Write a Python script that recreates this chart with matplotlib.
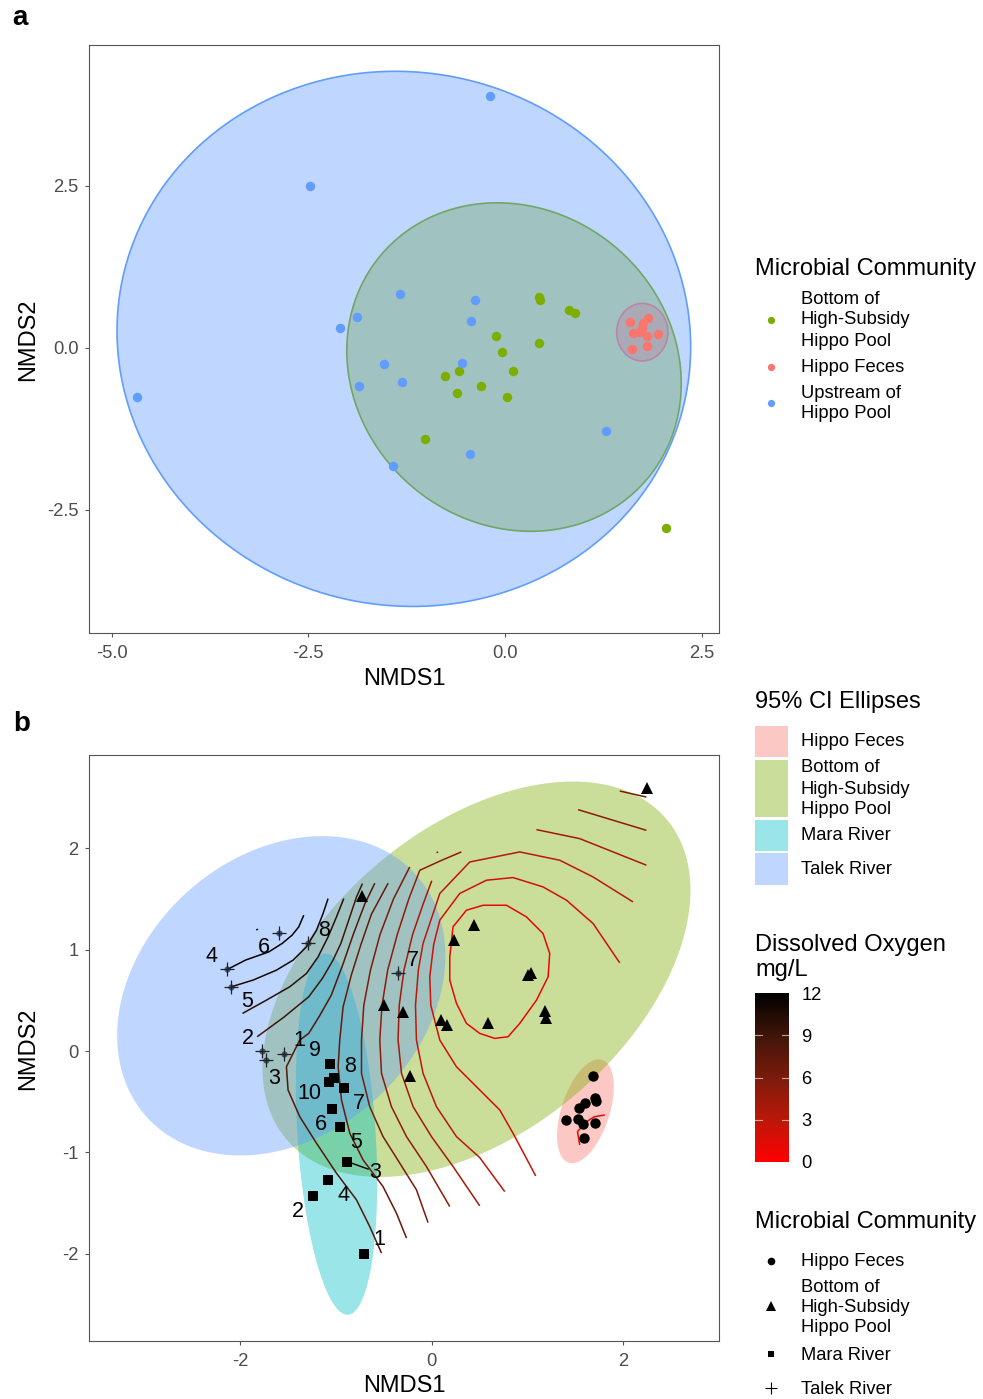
import numpy as np
import matplotlib
matplotlib.use('Agg')
import matplotlib.pyplot as plt
from matplotlib.colors import LinearSegmentedColormap, Normalize
from matplotlib.patches import Polygon, Rectangle
from matplotlib.cm import ScalarMappable

plt.rcParams['font.family'] = ['Liberation Sans', 'DejaVu Sans']
plt.rcParams['axes.unicode_minus'] = False

# ---------------- Panel a data ----------------
a_bottom_x = [0.43, 0.45, 0.82, 0.89, -0.12, -0.04, 0.43, 0.10, -0.76, -0.58, -0.61, -0.30, 0.02, -1.01, 2.05]
a_bottom_y = [0.79, 0.74, 0.58, 0.54, 0.18, -0.07, 0.08, -0.36, -0.43, -0.35, -0.69, -0.58, -0.76, -1.40, -2.78]
a_feces_x = [1.59, 1.82, 1.76, 1.70, 1.63, 1.80, 1.95, 1.81, 1.62, 1.74]
a_feces_y = [0.40, 0.46, 0.38, 0.25, 0.23, 0.18, 0.22, 0.03, -0.02, 0.31]
a_up_x = [-0.19, -2.48, -1.34, -0.38, -1.88, -2.09, -0.43, -1.54, -0.54, -1.86, -1.31, -4.67, 1.28, -0.45, -1.42]
a_up_y = [3.89, 2.50, 0.84, 0.74, 0.48, 0.31, 0.41, -0.25, -0.24, -0.59, -0.53, -0.76, -1.28, -1.64, -1.83]
# ellipses: centre x, centre y, sd-x, sd-y, correlation
a_ell_bottom = (0.115, -0.295, 2.125, 2.535, -0.10)
a_ell_feces = (1.745, 0.243, 0.325, 0.444, 0.0)
a_ell_up = (-1.285, 0.14, 3.645, 4.13, -0.03)
a_xticks = [-5.0, -2.5, 0.0, 2.5]
a_yticks = [-2.5, 0.0, 2.5]

# ---------------- Panel b data ----------------
b_feces_x = [1.688, 1.702, 1.720, 1.601, 1.539, 1.399, 1.525, 1.584, 1.709, 1.587]
b_feces_y = [-0.243, -0.466, -0.490, -0.509, -0.562, -0.683, -0.670, -0.719, -0.709, -0.860]
b_bottom_x = [2.245, -0.727, 0.444, 0.234, 1.010, 1.035, -0.504, -0.299, 0.095, 0.154, 0.583, 1.178, 1.190, -0.228]
b_bottom_y = [2.59, 1.526, 1.248, 1.100, 0.748, 0.766, 0.451, 0.388, 0.310, 0.255, 0.272, 0.396, 0.321, -0.245]
b_mara_x = [-0.710, -1.240, -0.884, -1.083, -0.954, -1.041, -0.912, -1.020, -1.058, -1.076]
b_mara_y = [-1.997, -1.432, -1.090, -1.274, -0.752, -0.575, -0.368, -0.269, -0.128, -0.302]
b_mara_lab = ['1', '2', '3', '4', '5', '6', '7', '8', '9', '10']
b_mara_lab_x = [-0.543, -1.403, -0.595, -0.919, -0.794, -1.163, -0.762, -0.849, -1.222, -1.281]
b_mara_lab_y = [-1.862, -1.583, -1.199, -1.429, -0.903, -0.729, -0.522, -0.154, 0.010, -0.417]
b_talek_x = [-1.542, -1.772, -1.727, -2.134, -2.092, -1.591, -0.355, -1.292]
b_talek_y = [-0.033, 0.003, -0.089, 0.805, 0.634, 1.169, 0.768, 1.067]
b_talek_lab = ['1', '2', '3', '4', '5', '6', '7', '8']
b_talek_lab_x = [-1.382, -1.922, -1.650, -2.301, -1.929, -1.755, -0.195, -1.128]
b_talek_lab_y = [0.108, 0.125, -0.269, 0.929, 0.486, 1.018, 0.897, 1.185]
b_ell_feces = (1.605, -0.594, 0.296, 0.5125, 0.47)
b_ell_bottom = (0.467, 0.708, 2.235, 1.95, 0.45)
b_ell_mara = (-0.995, -0.819, 0.425, 1.782, -0.27)
b_ell_talek = (-1.572, 0.545, 1.714, 1.575, 0.25)
b_xticks = [-2, 0, 2]
b_yticks = [-2, -1, 0, 1, 2]

# Dissolved-oxygen contour paths: (level, [(x, y), ...])
do_contours = [
    (12, [(-2.134, 0.805), (-1.946, 0.897), (-1.702, 0.978), (-1.563, 1.061), (-1.459, 1.143), (-1.389, 1.225), (-1.337, 1.340)]),
    (12, [(-1.832, 1.193), (-1.816, 1.203)]),
    (11, [(-2.092, 0.634), (-1.866, 0.700), (-1.622, 0.798), (-1.448, 0.897), (-1.309, 1.028), (-1.204, 1.192), (-1.135, 1.357), (-1.083, 1.504)]),
    (10, [(-1.977, 0.371), (-1.727, 0.502), (-1.483, 0.634), (-1.309, 0.765), (-1.187, 0.929), (-1.083, 1.126), (-0.995, 1.323), (-0.919, 1.504)]),
    (9, [(-1.824, 0.141), (-1.550, 0.330), (-1.285, 0.535), (-1.140, 0.720), (-1.031, 0.897), (-0.950, 1.060), (-0.891, 1.225), (-0.786, 1.520), (-0.724, 1.652)]),
    (8, [(-0.525, -1.993), (-0.648, -1.731), (-0.786, -1.468), (-0.995, -1.205), (-1.204, -0.909), (-1.379, -0.647), (-1.501, -0.384), (-1.518, -0.155), (-1.379, 0.108), (-1.285, 0.174), (-1.17, 0.35), (-1.05, 0.55), (-0.93, 0.85), (-0.82, 1.15), (-0.70, 1.45), (-0.595, 1.655)]),
    (7, [(-0.264, -1.845), (-0.369, -1.599), (-0.509, -1.337), (-0.717, -1.074), (-0.856, -0.811), (-0.943, -0.483), (-0.978, -0.155), (-0.961, 0.108), (-0.926, 0.436), (-0.84, 0.75), (-0.74, 1.05), (-0.63, 1.35), (-0.456, 1.655)]),
    (6, [(-0.039, -1.692), (-0.160, -1.369), (-0.334, -1.106), (-0.509, -0.844), (-0.648, -0.549), (-0.734, -0.220), (-0.734, 0.108), (-0.71, 0.45), (-0.64, 0.80), (-0.54, 1.15), (-0.40, 1.50), (-0.230, 1.816)]),
    (5, [(0.188, -1.534), (-0.055, -1.140), (-0.264, -0.844), (-0.421, -0.549), (-0.525, -0.220), (-0.543, 0.108), (-0.52, 0.45), (-0.46, 0.80), (-0.36, 1.15), (-0.24, 1.50), (-0.125, 1.783), (0.10, 1.88), (0.309, 1.964)]),
    (4, [(0.501, -1.527), (0.223, -1.140), (-0.003, -0.844), (-0.195, -0.549), (-0.316, -0.220), (-0.352, 0.108), (-0.34, 0.45), (-0.29, 0.80), (-0.20, 1.15), (-0.09, 1.45), (0.0, 1.68)]),
    (4, [(0.050, 1.955), (0.066, 1.965)]),
    (3, [(0.762, -1.386), (0.50, -1.05), (0.258, -0.844), (0.049, -0.549), (-0.091, -0.220), (-0.160, 0.108), (-0.17, 0.45), (-0.14, 0.80), (-0.091, 1.061), (0.084, 1.554), (0.397, 1.865), (0.919, 1.964), (1.337, 1.882), (1.685, 1.717), (2.102, 1.471)]),
    (2, [(1.086, -1.232), (0.849, -0.811), (0.710, -0.581), (0.501, -0.384), (0.258, -0.155), (0.084, 0.108), (-0.01, 0.45), (-0.021, 0.732), (0.02, 1.05), (0.084, 1.291), (0.292, 1.554), (0.571, 1.685), (0.849, 1.711), (1.162, 1.619), (1.407, 1.488), (1.685, 1.258), (1.963, 0.870)]),
    (1, [(0.188, 0.929), (0.222, 1.225), (0.362, 1.389), (0.536, 1.438), (0.780, 1.438), (0.989, 1.323), (1.162, 1.159), (1.232, 0.962), (1.215, 0.732), (1.094, 0.502), (0.919, 0.273), (0.797, 0.141), (0.658, 0.125), (0.501, 0.174), (0.362, 0.273), (0.258, 0.470), (0.188, 0.700), (0.188, 0.929)]),
    (4, [(1.093, 2.184), (1.546, 2.095), (2.242, 1.833)]),
    (5, [(1.528, 2.381), (2.242, 2.177)]),
    (6, [(1.963, 2.565), (2.242, 2.505)]),
    (1, [(1.546, -0.926), (1.522, -0.795), (1.616, -0.697), (1.702, -0.647), (1.807, -0.631)]),
]
do_ticks = [0, 3, 6, 9, 12]

# ---------------- styling ----------------
C_RED, C_GREEN, C_BLUE, C_CYAN = '#F8766D', '#7CAE00', '#619CFF', '#00BFC4'
TICK_C = '#4D4D4D'
TITLE_SIZE = 17
do_cmap = LinearSegmentedColormap.from_list(
    'do', [(0.0, '#FF0000'), (0.25, '#BA1809'), (0.5, '#7A1B0C'), (0.75, '#3F1509'), (1.0, '#000000')])
do_norm = Normalize(0, 12)

W, H = 983, 1399
fig = plt.figure(figsize=(W / 100, H / 100), dpi=100)


def fig_rect(x0, y0, x1, y1):
    return [x0 / W, 1 - y1 / H, (x1 - x0) / W, (y1 - y0) / H]


def ellipse_pts(p, n=240):
    cx, cy, sx, sy, rho = p
    t = np.linspace(0, 2 * np.pi, n)
    S = np.array([[sx ** 2, rho * sx * sy], [rho * sx * sy, sy ** 2]])
    L = np.linalg.cholesky(S)
    xy = L @ np.vstack([np.cos(t), np.sin(t)])
    return np.column_stack([cx + xy[0], cy + xy[1]])


def style_axes(ax, xt, yt, fmt):
    ax.set_xticks(xt)
    ax.set_yticks(yt)
    ax.set_xticklabels([fmt(v) for v in xt])
    ax.set_yticklabels([fmt(v) for v in yt])
    ax.tick_params(length=3.2, width=0.8, color='#555555', labelsize=13.2, labelcolor=TICK_C)
    ax.tick_params(axis='x', pad=5.5)
    ax.tick_params(axis='y', pad=4.5)
    for s in ax.spines.values():
        s.set_color('#555555')
        s.set_linewidth(0.8)


def fig_label(x, y, s, **kw):
    fig.text(x / W, 1 - y / H, s, ha='center', va='center', **kw)


# ---------------- Panel a ----------------
axa = fig.add_axes(fig_rect(89, 45, 719, 633))
for p, col, z in [(a_ell_bottom, C_GREEN, 1), (a_ell_feces, C_RED, 2), (a_ell_up, C_BLUE, 3)]:
    rgb = matplotlib.colors.to_rgb(col)
    axa.add_patch(Polygon(ellipse_pts(p), closed=True, facecolor=rgb + (0.4,), edgecolor=col, lw=1.2, zorder=z))
axa.plot(a_bottom_x, a_bottom_y, 'o', color=C_GREEN, ms=6.8, mew=0, zorder=5)
axa.plot(a_feces_x, a_feces_y, 'o', color=C_RED, ms=6.8, mew=0, zorder=5)
axa.plot(a_up_x, a_up_y, 'o', color=C_BLUE, ms=6.8, mew=0, zorder=5)
axa.set_xlim(-5.286, 2.72)
axa.set_ylim(-4.40, 4.676)
style_axes(axa, a_xticks, a_yticks, lambda v: f'{v:.1f}')
fig_label(404, 679, 'NMDS1', fontsize=TITLE_SIZE)
fig_label(28, 340, 'NMDS2', fontsize=TITLE_SIZE, rotation=90)

# ---------------- Panel b ----------------
axb = fig.add_axes(fig_rect(89, 755, 719, 1341))
for p, col, z in [(b_ell_feces, C_RED, 1), (b_ell_bottom, C_GREEN, 2), (b_ell_mara, C_CYAN, 3), (b_ell_talek, C_BLUE, 4)]:
    rgb = matplotlib.colors.to_rgb(col)
    axb.add_patch(Polygon(ellipse_pts(p), closed=True, facecolor=rgb + (0.4,), edgecolor='none', zorder=z))
for lev, path in do_contours:
    arr = np.array(path)
    axb.plot(arr[:, 0], arr[:, 1], color=do_cmap(do_norm(lev)), lw=1.1, zorder=6, solid_capstyle='butt')
axb.plot(b_feces_x, b_feces_y, 'o', color='black', ms=7.5, mew=0, zorder=8)
axb.plot(b_bottom_x, b_bottom_y, '^', color='black', ms=8.5, mew=0, zorder=8)
axb.plot(b_mara_x, b_mara_y, 's', color='black', ms=6.8, mew=0, zorder=8)
axb.plot(b_talek_x, b_talek_y, 'o', color='#22304F', ms=4.5, mew=0, alpha=0.75, zorder=8)
axb.plot(b_talek_x, b_talek_y, '+', color='#222222', ms=10, mew=0.9, zorder=9)
for s, x, y in zip(b_mara_lab, b_mara_lab_x, b_mara_lab_y):
    axb.text(x, y, s, fontsize=15.5, ha='center', va='center', zorder=10)
for s, x, y in zip(b_talek_lab, b_talek_lab_x, b_talek_lab_y):
    axb.text(x, y, s, fontsize=15.5, ha='center', va='center', zorder=10)
# repel segment for Mara label 3
axb.plot([b_mara_x[2], b_mara_lab_x[2] - 0.07], [b_mara_y[2], b_mara_lab_y[2] + 0.035], color='black', lw=1.0, zorder=9)
axb.set_xlim(-3.58, 3.0)
axb.set_ylim(-2.86, 2.92)
style_axes(axb, b_xticks, b_yticks, lambda v: f'{v:d}')
fig_label(404, 1386, 'NMDS1', fontsize=TITLE_SIZE)
fig_label(28, 1049, 'NMDS2', fontsize=TITLE_SIZE, rotation=90)

# ---------------- Legends (overlay in pixel space) ----------------
ov = fig.add_axes([0, 0, 1, 1], zorder=20)
ov.set_xlim(0, W)
ov.set_ylim(H, 0)
ov.set_axis_off()


def t(x, y, s, size=13.2, **kw):
    ov.text(x, y, s, fontsize=size, ha='left', va='center', **kw)


fig_label(20, 18, 'a', fontsize=20, fontweight='bold')
fig_label(22, 724, 'b', fontsize=20, fontweight='bold')

# panel a legend
t(755, 269, 'Microbial Community', size=TITLE_SIZE)
for lab_lines, ys, my, col in [(['Bottom of', 'High-Subsidy', 'Hippo Pool'], [300, 320, 341], 320, C_GREEN),
                               (['Hippo Feces'], [367], 367, C_RED),
                               (['Upstream of', 'Hippo Pool'], [393, 414], 403, C_BLUE)]:
    ov.plot([771], [my], 'o', color=col, ms=5.2, mew=0)
    for s, y in zip(lab_lines, ys):
        t(801, y, s)

# panel b ellipse legend
t(755, 702, '95% CI Ellipses', size=TITLE_SIZE)
for (y0, y1), col in [((726, 757), C_RED), ((760, 817), C_GREEN), ((820, 851), C_CYAN), ((853, 885), C_BLUE)]:
    rgb = matplotlib.colors.to_rgb(col)
    ov.add_patch(Rectangle((755, y0), 33, y1 - y0, facecolor=rgb + (0.4,), edgecolor='none'))
for s, y in [('Hippo Feces', 742), ('Bottom of', 768), ('High-Subsidy', 789), ('Hippo Pool', 809),
             ('Mara River', 836), ('Talek River', 870)]:
    t(801, y, s)

# colour bar
t(755, 945, 'Dissolved Oxygen', size=TITLE_SIZE)
t(755, 970, 'mg/L', size=TITLE_SIZE)
cax = fig.add_axes(fig_rect(755, 993, 789, 1162))
cb = fig.colorbar(ScalarMappable(norm=do_norm, cmap=do_cmap), cax=cax)
cb.outline.set_visible(False)
cb.set_ticks(do_ticks)
cb.set_ticklabels([str(v) for v in do_ticks])
cax.tick_params(length=0, labelsize=13.2, pad=9, labelcolor='black')
for v in do_ticks[1:-1]:
    cax.axhline(v, xmin=0, xmax=0.2, color='white', lw=0.8, alpha=0.6)
    cax.axhline(v, xmin=0.8, xmax=1, color='white', lw=0.8, alpha=0.6)

# panel b shape legend
t(755, 1222, 'Microbial Community', size=TITLE_SIZE)
ov.plot([771], [1261], 'o', color='black', ms=5.5, mew=0)
ov.plot([771], [1306], '^', color='black', ms=6.5, mew=0)
ov.plot([771], [1354], 's', color='black', ms=5, mew=0)
ov.plot([771], [1388], '+', color='black', ms=9, mew=0.8)
for s, y in [('Hippo Feces', 1262), ('Bottom of', 1287), ('High-Subsidy', 1307), ('Hippo Pool', 1328),
             ('Mara River', 1355), ('Talek River', 1389)]:
    t(801, y, s)

fig.savefig('out.png', dpi=100)
